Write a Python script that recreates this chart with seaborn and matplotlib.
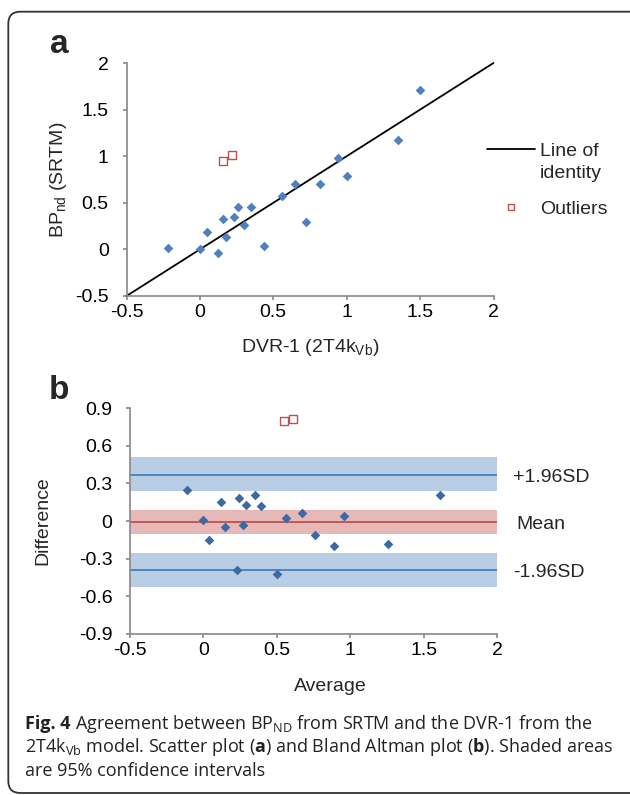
import matplotlib
matplotlib.use("Agg")
import matplotlib.pyplot as plt
import matplotlib.transforms as mtransforms
import seaborn as sns
from matplotlib.lines import Line2D
from matplotlib.patches import FancyBboxPatch
from matplotlib.ticker import FuncFormatter

# Panel a: BPnd (SRTM) against DVR-1 (2T4kVb)
dvr = [-0.22, 0.0, 0.05, 0.12, 0.16, 0.18, 0.23, 0.26, 0.30, 0.35, 0.44,
       0.56, 0.65, 0.72, 0.82, 0.94, 1.00, 1.35, 1.50]
bpnd = [0.01, 0.0, 0.19, -0.04, 0.33, 0.13, 0.35, 0.46, 0.26, 0.45, 0.04,
        0.57, 0.70, 0.29, 0.70, 0.98, 0.79, 1.17, 1.71]
outlier_dvr = [0.16, 0.22]
outlier_bpnd = [0.95, 1.01]
identity = [-0.5, 2.0]

# Panel b: Bland Altman
average = [-0.11, 0.0, 0.04, 0.12, 0.15, 0.23, 0.24, 0.27, 0.29, 0.35, 0.39,
           0.50, 0.56, 0.67, 0.76, 0.89, 0.96, 1.26, 1.61]
difference = [0.245, 0.01, -0.15, 0.15, -0.05, -0.39, 0.18, -0.03, 0.13, 0.21,
              0.12, -0.42, 0.02, 0.06, -0.11, -0.20, 0.04, -0.18, 0.21]
outlier_avg = [0.55, 0.61]
outlier_diff = [0.80, 0.81]

limit_names = ['+1.96SD', 'Mean', '-1.96SD']
limit_values = [0.37, -0.01, -0.39]
ci_low = [0.24, -0.10, -0.525]
ci_high = [0.508, 0.087, -0.256]
line_colors = ['#4a7ebb', '#c0504d', '#4a7ebb']
band_colors = ['#b9cde5', '#e6b9b8', '#b9cde5']

sns.set_style('ticks')
plt.rcParams['font.family'] = ['Liberation Sans', 'DejaVu Sans']
plt.rcParams['mathtext.fontset'] = 'custom'
plt.rcParams['mathtext.rm'] = 'Open Sans'
plt.rcParams['mathtext.bf'] = 'Open Sans:bold'
plt.rcParams['mathtext.sf'] = 'Liberation Sans'

W, H = 630, 795
FS = 14
fig = plt.figure(figsize=(W / 100, H / 100), dpi=100)
fig.patch.set_facecolor('white')

# rounded frame round the figure
frame = FancyBboxPatch((0.083, 0.02), 7.0, 7.813,
                       boxstyle='round,pad=0,rounding_size=0.12',
                       transform=fig.dpi_scale_trans, fill=False,
                       edgecolor='#333333', linewidth=1.3)
fig.add_artist(frame)

ax1 = fig.add_axes([126.5 / W, 1 - 296 / H, 367 / W, 233 / H])
ax2 = fig.add_axes([130 / W, 1 - 634 / H, 367 / W, 226 / H])

fmt = FuncFormatter(lambda v, p: f'{round(v, 1):g}')
for ax in (ax1, ax2):
    sns.despine(ax=ax)
    for s in ('left', 'bottom'):
        ax.spines[s].set_color('#888888')
        ax.spines[s].set_linewidth(1.2)
    ax.tick_params(axis='both', colors='#888888', labelcolor='black',
                   length=3.2, width=1.2, labelsize=FS)
    ax.tick_params(axis='y', pad=9.5)
    ax.tick_params(axis='x', pad=2.5)
    ax.xaxis.set_major_formatter(fmt)
    ax.yaxis.set_major_formatter(fmt)
    ax.set_facecolor('white')

# ---- panel a
sns.lineplot(x=identity, y=identity, color='black', linewidth=1.3, ax=ax1)
ax1.lines[-1].set_clip_on(False)
sns.scatterplot(x=dvr, y=bpnd, marker='D', s=24, color='#4f81bd',
                linewidth=0, ax=ax1, zorder=3)
ax1.scatter(outlier_dvr, outlier_bpnd, marker='s', s=36, facecolor='white',
            edgecolor='#c0504d', linewidth=1.0, zorder=3)
ax1.set_xlim(-0.5, 2)
ax1.set_ylim(-0.5, 2)
ax1.set_xticks([-0.5, 0, 0.5, 1, 1.5, 2])
ax1.set_yticks([-0.5, 0, 0.5, 1, 1.5, 2])
ax1.set_xlabel('DVR-1 (2T4k$_{\\mathsf{Vb}}$)', fontsize=FS, va='center')
ax1.xaxis.set_label_coords(0.5, -0.219)
ax1.set_ylabel('BP$_{\\mathsf{nd}}$ (SRTM)', fontsize=FS, va='center')
ax1.yaxis.set_label_coords(-0.184, 0.5)

# legend keys beside panel a
fig.add_artist(Line2D([487 / W, 535 / W], [1 - 149 / H, 1 - 149 / H],
                      color='black', linewidth=1.3))
fig.add_artist(Line2D([511 / W], [1 - 207 / H], marker='s', linestyle='',
                      markersize=5, markerfacecolor='white',
                      markeredgecolor='#c0504d', markeredgewidth=1.0))
for txt, base in (('Line of', 156), ('identity', 178.5), ('Outliers', 214)):
    fig.text(540 / W, 1 - base / H, txt, fontsize=FS, va='baseline')

# ---- panel b
for val, lo, hi, lc, bc in zip(limit_values, ci_low, ci_high, line_colors, band_colors):
    ax2.axhspan(lo, hi, color=bc, linewidth=0, zorder=0)
    ax2.axhline(val, color=lc, linewidth=1.3, zorder=1)
sns.scatterplot(x=average, y=difference, marker='D', s=24, color='#3b6aa3',
                linewidth=0, ax=ax2, zorder=3)
ax2.scatter(outlier_avg, outlier_diff, marker='s', s=30, facecolor='white',
            edgecolor='#c0504d', linewidth=1.0, zorder=3)
ax2.set_xlim(-0.5, 2)
ax2.set_ylim(-0.9, 0.9)
ax2.set_xticks([-0.5, 0, 0.5, 1, 1.5, 2])
ax2.set_yticks([-0.9, -0.6, -0.3, 0, 0.3, 0.6, 0.9])
ax2.set_xlabel('Average', fontsize=FS, va='center')
ax2.xaxis.set_label_coords(0.545, -0.2345)
ax2.set_ylabel('Difference', fontsize=FS, va='center')
ax2.yaxis.set_label_coords(-0.237, 0.5)

trans = mtransforms.blended_transform_factory(ax2.transAxes, ax2.transData)
trans = mtransforms.offset_copy(trans, fig=fig, y=-7, units='dots')
for name, val in zip(limit_names, limit_values):
    xoff = 1.054 if name == 'Mean' else 1.044
    ax2.text(xoff, val, name, transform=trans, ha='left', va='baseline',
             fontsize=FS)

# panel letters
fig.text(50 / W, 1 - 53 / H, 'a', fontsize=24, fontweight='bold', va='baseline')
fig.text(49 / W, 1 - 399 / H, 'b', fontsize=24, fontweight='bold', va='baseline')

# caption: bold "Fig. 4" drawn first, the rest placed after it
cap_kw = dict(fontsize=13, family='Open Sans', color='#222222', va='baseline')
lead = fig.text(25 / W, 1 - 729 / H, 'Fig. 4', fontweight='bold', **cap_kw)
renderer = fig.canvas.get_renderer()
lead_end = lead.get_window_extent(renderer).x1
caption = [
    r'Agreement between BP$_{\mathrm{ND}}$ from SRTM and the DVR-1 from the',
    r'2T4k$_{\mathrm{Vb}}$ model. Scatter plot ($\mathbf{a}$) and Bland Altman plot ($\mathbf{b}$). Shaded areas',
    'are 95% confidence intervals',
]
fig.text((lead_end + 4.5) / W, 1 - 729 / H, caption[0], **cap_kw)
for i, line in enumerate(caption[1:], start=1):
    fig.text(25 / W, 1 - (729 + 23.5 * i) / H, line, **cap_kw)

fig.savefig('out.png', dpi=100, facecolor='white')
